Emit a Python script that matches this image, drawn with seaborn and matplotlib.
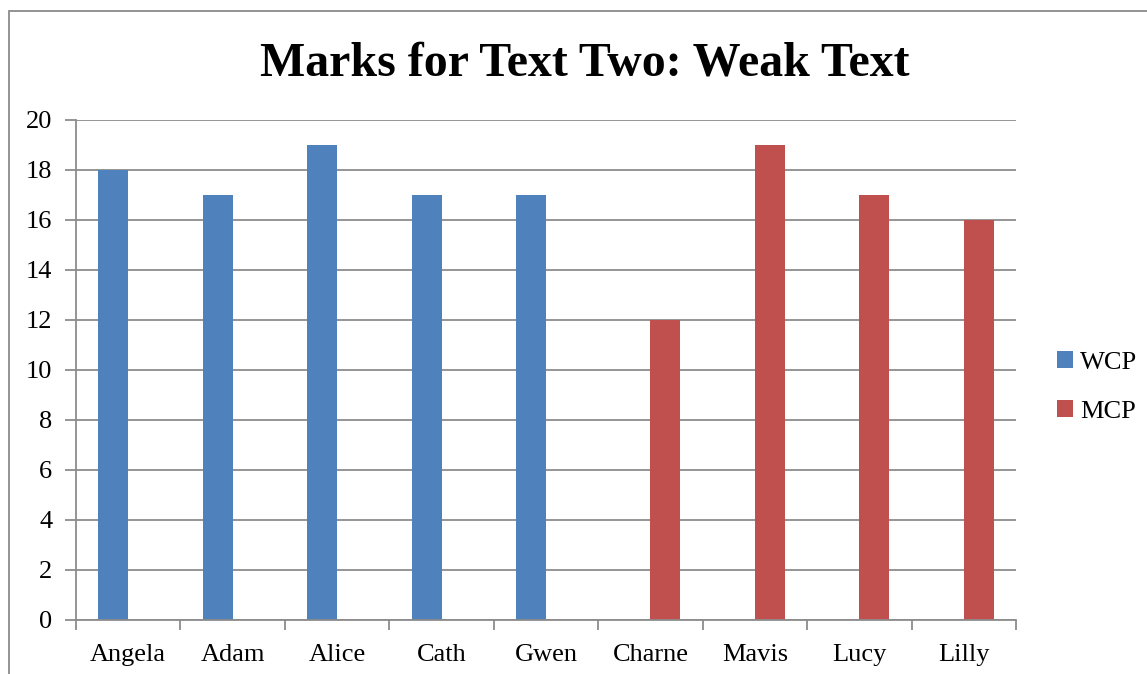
import seaborn as sns
import pandas as pd
import matplotlib.pyplot as plt
from matplotlib.patches import Rectangle, Patch

names = ['Angela', 'Adam', 'Alice', 'Cath', 'Gwen', 'Charne', 'Mavis', 'Lucy', 'Lilly']
groups = ['WCP', 'WCP', 'WCP', 'WCP', 'WCP', 'MCP', 'MCP', 'MCP', 'MCP']
marks = [18, 17, 19, 17, 17, 12, 19, 17, 16]
series = ['WCP', 'MCP']
colours = ['#4F81BD', '#C0504D']

df = pd.DataFrame({'name': names, 'group': groups, 'marks': marks})

sns.set_style('white')
plt.rcParams['font.family'] = ['Liberation Serif', 'DejaVu Serif']
plt.rcParams['text.color'] = 'black'
plt.rcParams['xtick.labelcolor'] = 'black'
plt.rcParams['ytick.labelcolor'] = 'black'

fig = plt.figure(figsize=(11.47, 6.74), dpi=100)
ax = fig.add_axes([76/1147, 54/674, 940/1147, 500/674])

sns.barplot(data=df, x='name', y='marks', hue='group', order=names, hue_order=series,
            palette=colours, dodge=True, width=0.575, gap=0, saturation=1,
            edgecolor='none', ax=ax, legend=False)

grid = '#8c8c8c'
ax.set_ylim(0, 20)
ax.set_yticks(range(0, 21, 2))
ax.set_xlim(-0.5, len(names) - 0.5)
ax.yaxis.grid(True, color=grid, linewidth=1.3)
ax.set_axisbelow(True)
for s in ['top', 'right']:
    ax.spines[s].set_visible(False)
for s in ['left', 'bottom']:
    ax.spines[s].set_color(grid)
    ax.spines[s].set_linewidth(1.3)

ax.tick_params(axis='y', length=8, width=1.3, color=grid, labelsize=19, pad=9, left=True,
               labelcolor='black')
ax.tick_params(axis='x', which='major', length=0, labelsize=19, pad=17, labelcolor='black')
ax.set_xticks([i - 0.5 for i in range(len(names) + 1)], minor=True)
ax.tick_params(axis='x', which='minor', length=7, width=1.3, color=grid, bottom=True)
ax.set_xlabel('')
ax.set_ylabel('')

handles = [Patch(facecolor=c, edgecolor='none') for c in colours]
leg = ax.legend(handles, series, loc='center left', bbox_to_anchor=(1.018, 0.466), frameon=False,
                fontsize=19, handlelength=0.6, handleheight=0.6, handletextpad=0.3,
                labelspacing=1.0)
for t in leg.get_texts():
    t.set_color('black')

fig.text(585/1147, 1 - 63/674, 'Marks for Text Two: Weak Text', ha='center', va='center',
         fontsize=34.5, fontweight='bold', color='black')

fig.patches.append(Rectangle((9/1147, -0.1), 1.2, 1 - 11/674 + 0.1, transform=fig.transFigure,
                             fill=False, edgecolor='#8a8a8a', linewidth=1.3, figure=fig))

plt.savefig('out.png')
